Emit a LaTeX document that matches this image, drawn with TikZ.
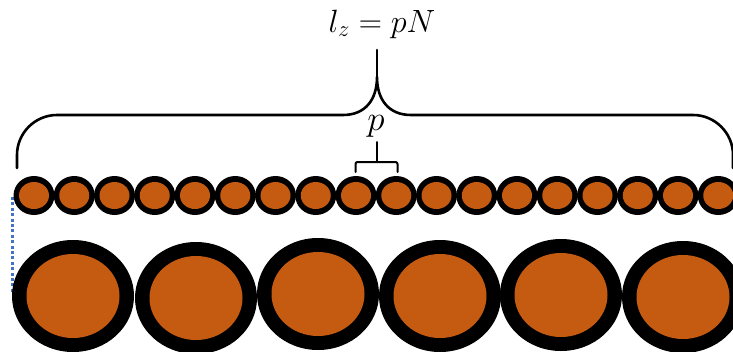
\RequirePackage{fix-cm}
\documentclass[tikz,border=0pt]{standalone}
\usepackage{graphicx}
\begin{document}
\begin{tikzpicture}[x=1pt,y=-1pt,
  brace/.style={line width=2.6pt,black,line cap=round,line join=round},
  ring/.style={fill=black},
  core/.style={fill=rust},
  lbl/.style={inner sep=0pt,font=\fontsize{28}{32}\selectfont}]
\definecolor{rust}{RGB}{197,90,17}
\definecolor{dotblue}{RGB}{68,114,196}
\useasboundingbox (0,0) rectangle (733,351);
\clip (0,0) rectangle (733,351);
% dotted blue line
\draw[dotblue,line width=3pt,dash pattern=on 3pt off 2.4pt] (12.5,197) -- (12.5,294);
% small circles
\foreach \i in {0,...,17}{
  \pgfmathsetmacro{\cx}{34+40.25*\i}
  \fill[ring] (\cx,195.5) ellipse [x radius=20.5,y radius=19.5];
  \fill[core] (\cx,195.5) ellipse [x radius=15,y radius=13.5];
}
% large circles
\foreach \cx/\cy in {73/296,196/298,318/294,440/296,561/295,683/297}{
  \fill[ring] (\cx,\cy) ellipse [x radius=61,y radius=56];
  \fill[core] (\cx,\cy) ellipse [x radius=46.5,y radius=42];
}
% big brace
\coordinate (bl) at (17,168);
\coordinate (br) at (733,168);
\coordinate (bt) at (377,50);
\draw[brace] (bl) -- (17,155) .. controls (17,133) and (35,115) .. (57,115)
  -- (343,115) .. controls (365,115) and (377,100) .. (377,77)
  .. controls (377,100) and (389,115) .. (411,115)
  -- (693,115) .. controls (715,115) and (733,133) .. (733,155) -- (br);
\draw[brace] (377,77) -- (bt);
% small brace
\coordinate (sl) at (355.5,172);
\coordinate (sr) at (397.5,172);
\coordinate (st) at (376.5,142);
\draw[brace,line width=2pt,rounded corners=2pt] (sl) -- (355.5,162) -- (397.5,162) -- (sr);
\draw[brace,line width=2pt] (376.5,162) -- (st);
% labels
\node[lbl,anchor=base] (lz) at (382,32) {\scalebox{1.15}{$l_z = pN$}};
\node[lbl,anchor=base] (p) at (376,130) {\scalebox{1.25}{$p$}};
\end{tikzpicture}
\end{document}
